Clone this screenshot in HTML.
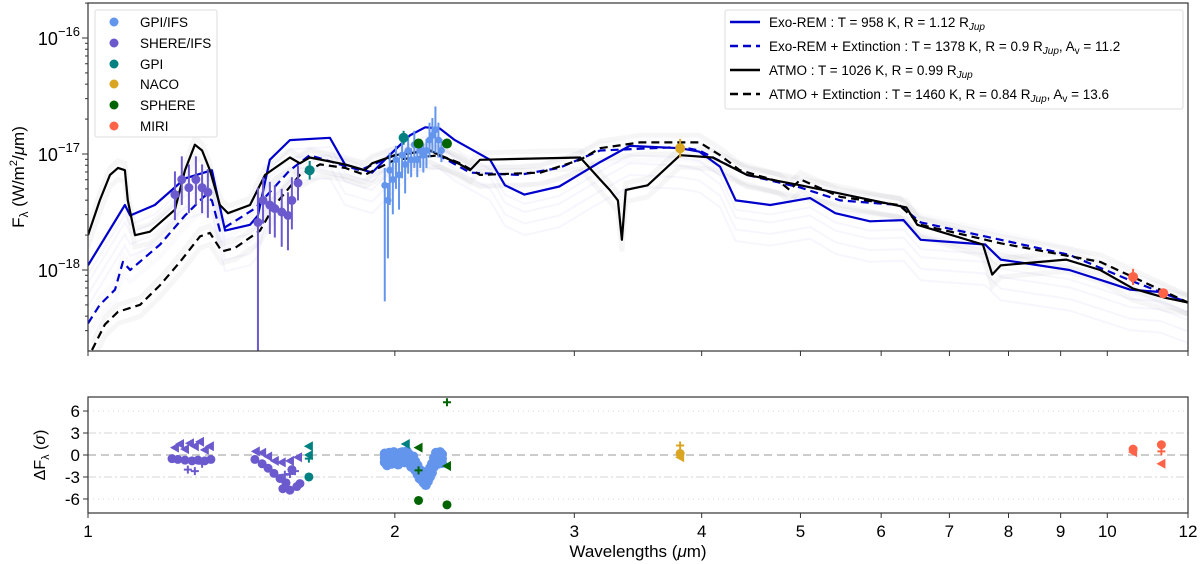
<!DOCTYPE html>
<html><head><meta charset="utf-8">
<style>
html,body{margin:0;padding:0;background:#fff;}
svg{display:block;font-family:"Liberation Sans","DejaVu Sans",sans-serif;}
</style></head>
<body>
<svg id="c" width="1200" height="564" viewBox="0 0 1200 564" xmlns="http://www.w3.org/2000/svg">
<defs>
<clipPath id="clipTop"><rect x="88" y="3" width="1100" height="348"/></clipPath>
<clipPath id="clipBot"><rect x="88" y="397" width="1100" height="116"/></clipPath>
</defs>
<g id="topPlot" clip-path="url(#clipTop)"></g>
<g id="botPlot" clip-path="url(#clipBot)"></g>
<g id="axes"></g>
</svg>
<script>
// ---- model data (wavelength µm, log10 flux W/m2/µm) ----
const exoW  = [1.00,1.087,1.10,1.163,1.245,1.323,1.339,1.363,1.442,1.468,1.508,1.578,1.727,1.787,1.90,1.955,2.069,2.142,2.214,2.29,2.48,2.565,2.68,2.90,3.18,3.40,3.81,3.98,4.17,4.32,4.67,5.11,5.41,5.85,6.31,6.56,7.59,7.86,9.18,10.05,10.53,11.27,12.0];
const exoL  = [-17.96,-17.44,-17.53,-17.44,-17.21,-17.14,-17.35,-17.66,-17.61,-17.53,-17.05,-16.88,-16.86,-17.09,-17.16,-17.05,-16.84,-16.77,-16.78,-16.88,-17.05,-17.27,-17.35,-17.28,-17.07,-16.93,-16.95,-16.98,-17.11,-17.40,-17.44,-17.38,-17.51,-17.58,-17.57,-17.74,-17.78,-17.91,-18.00,-18.11,-18.17,-18.19,-18.28];
const exoExtW = [1.00,1.027,1.063,1.082,1.10,1.177,1.245,1.302,1.323,1.347,1.458,1.578,1.65,1.767,1.849,2.0,2.166,2.37,2.65,2.90,3.18,3.81,3.98,4.43,5.0,5.47,6.25,6.56,7.86,9.18,10.53,12.0];
const exoExtL = [-18.46,-18.30,-18.17,-17.93,-18.00,-17.78,-17.53,-17.36,-17.40,-17.66,-17.47,-17.14,-17.01,-17.09,-17.14,-17.01,-16.97,-17.16,-17.18,-17.12,-16.97,-16.94,-16.97,-17.18,-17.29,-17.40,-17.44,-17.59,-17.74,-17.87,-18.09,-18.28];
const atmoW = [1.00,1.027,1.051,1.07,1.087,1.094,1.112,1.15,1.217,1.245,1.273,1.294,1.317,1.347,1.372,1.442,1.492,1.578,1.614,1.65,1.787,1.869,1.90,2.0,2.166,2.214,2.318,2.37,2.424,3.04,3.18,3.25,3.31,3.34,3.37,3.54,3.81,4.10,4.43,5.0,6.35,6.51,7.55,7.71,7.86,9.11,9.84,10.6,11.4,12.0];
const atmoL = [-17.70,-17.40,-17.18,-17.12,-17.14,-17.40,-17.70,-17.67,-17.48,-17.14,-16.92,-16.97,-17.14,-17.44,-17.51,-17.44,-17.18,-17.03,-17.08,-17.03,-17.09,-17.14,-17.08,-17.01,-16.97,-17.01,-17.09,-17.14,-17.05,-17.03,-17.22,-17.31,-17.40,-17.74,-17.31,-17.27,-17.01,-17.03,-17.18,-17.27,-17.46,-17.61,-17.78,-18.04,-17.96,-17.91,-18.00,-18.16,-18.24,-18.28];
const atmoExtW = [1.009,1.039,1.07,1.125,1.177,1.231,1.288,1.317,1.353,1.394,1.475,1.525,1.614,1.689,1.787,1.869,2.0,2.214,2.318,2.424,2.78,3.04,3.18,3.48,3.98,4.17,4.36,4.77,4.88,5.0,5.47,6.25,6.56,7.86,9.84,12.0];
const atmoExtL = [-18.69,-18.47,-18.36,-18.30,-18.13,-17.93,-17.71,-17.68,-17.84,-17.81,-17.66,-17.44,-17.18,-17.09,-17.12,-17.18,-17.05,-17.01,-17.08,-17.18,-17.16,-17.05,-16.95,-16.90,-16.90,-17.01,-17.14,-17.24,-17.31,-17.22,-17.37,-17.44,-17.61,-17.77,-17.93,-18.28];
// ---- observations ----
const gpiIfsW = [1.955,1.969,1.977,1.991,2.005,2.019,2.033,2.047,2.061,2.075,2.09,2.104,2.118,2.133,2.148,2.163,2.177,2.192,2.207,2.222];
const gpiIfsL = [-17.27,-17.40,-17.14,-17.22,-17.05,-17.18,-17.01,-17.09,-16.97,-17.05,-16.92,-17.05,-16.97,-17.01,-16.97,-16.88,-16.84,-16.79,-16.88,-16.97];
const gpiIfsE = [1.0,0.5,0.3,0.3,0.25,0.3,0.2,0.25,0.2,0.15,0.2,0.15,0.15,0.15,0.15,0.15,0.15,0.2,0.15,0.1];
const gpiIfsEup = [0.15,0.15,0.15,0.15,0.12,0.15,0.12,0.12,0.12,0.1,0.12,0.1,0.1,0.1,0.1,0.15,0.15,0.2,0.15,0.1];
const sphIfsW = [1.217,1.236,1.256,1.276,1.294,1.311,1.468,1.485,1.508,1.525,1.549,1.571,1.585,1.607];
const sphIfsL = [-17.35,-17.22,-17.29,-17.22,-17.29,-17.33,-17.59,-17.40,-17.44,-17.47,-17.50,-17.53,-17.40,-17.25];
const sphIfsE = [0.22,0.22,0.22,0.22,0.22,0.22,1.2,0.2,0.25,0.25,0.3,0.3,0.25,0.15];
const sphIfsEup = [0.2,0.2,0.2,0.2,0.2,0.2,0.3,0.2,0.2,0.2,0.2,0.2,0.2,0.15];
const gpiW = [1.65,2.04]; const gpiL = [-17.14,-16.86]; const gpiE = [0.08,0.06];
const sphereW = [2.11,2.25]; const sphereL = [-16.91,-16.91];
const nacoW = [3.81]; const nacoL = [-16.95]; const nacoE = [0.08];
const miriW = [10.6,11.35]; const miriL = [-18.06,-18.20]; const miriE = [0.07,0.02];
// ---- residuals (wavelength, sigma, marker) ----
const resW = [1.217,1.231,1.245,1.259,1.273,1.288,1.302,1.317,1.209,1.225,1.245,1.265,1.282,1.302,1.320,1.253,1.273,1.294,
 1.461,1.482,1.502,1.525,1.549,1.578,1.607,1.458,1.482,1.502,1.522,1.543,1.564,1.585,1.553,1.578,1.603,1.614,1.560,1.578,1.596,
 1.647,1.647,1.647,1.647,2.05,2.11,2.11,2.11,2.25,2.25,2.25,3.81,3.81,3.81,10.6,10.6,10.6,11.3,11.3,11.3];
const resV = [1.0,1.5,0.8,1.6,1.2,1.8,0.7,1.2,-0.5,-0.6,-0.7,-0.8,-0.7,-0.8,-0.6,-2.0,-2.2,-1.2,
 0.5,0.3,-0.2,-0.8,-1.0,-0.8,-0.3,-0.6,-1.2,-1.8,-2.5,-3.2,-3.8,-2.0,-4.6,-4.8,-4.3,-3.9,-2.7,-2.6,-2.2,
 1.2,0.0,-3.0,-0.5,1.5,1.0,-2.1,-6.2,7.2,-1.5,-6.8,1.3,0.2,-0.3,0.8,0.4,0.6,1.4,0.5,-1.2];
const resM = ['t','t','t','t','t','t','t','t','o','o','o','o','o','o','o','+','+','+',
 't','t','t','t','t','t','t','o','o','o','o','o','o','o','o','o','o','o','+','+','+',
 't','t','o','+','t','t','+','o','+','t','o','+','o','t','o','t','+','o','+','t'];
const resC = ['sphIfs','sphIfs','sphIfs','sphIfs','sphIfs','sphIfs','sphIfs','sphIfs','sphIfs','sphIfs','sphIfs','sphIfs','sphIfs','sphIfs','sphIfs','sphIfs','sphIfs','sphIfs',
 'sphIfs','sphIfs','sphIfs','sphIfs','sphIfs','sphIfs','sphIfs','sphIfs','sphIfs','sphIfs','sphIfs','sphIfs','sphIfs','sphIfs','sphIfs','sphIfs','sphIfs','sphIfs','sphIfs','sphIfs','sphIfs',
 'gpi','gpi','gpi','gpi','gpi','sphere','sphere','sphere','sphere','sphere','sphere','naco','naco','naco','miri','miri','miri','miri','miri','miri'];
const resBlueW = [1.955,1.965,1.975,1.985,1.995,2.005,2.015,2.025,2.035,2.045,2.055,2.065,2.075,2.085,2.095,2.105,2.115,2.125,2.135,2.145,2.155,2.165,2.175,2.185,2.195,2.205,2.215,2.225];
const resBlueV = [-0.4,-0.8,-0.3,-0.6,-0.2,-0.5,-0.7,-0.3,-0.2,-0.4,-0.1,-0.5,-1.0,-0.8,-1.5,-2.0,-2.6,-2.8,-3.2,-3.5,-3.0,-2.4,-1.8,-1.0,-0.3,-0.6,-0.2,-0.5];
const xTicks = [1,2,3,4,5,6,7,8,9,10,12];
const resTicks = [6,3,0,-3,-6];

const COL = {gpiIfs:'#6495ed', sphIfs:'#6a5acd', gpi:'#008080', naco:'#daa520', sphere:'#006400', miri:'#ff6347'};
const NS='http://www.w3.org/2000/svg';
const X0=88, X1=1188;
const xs = w => X0 + (X1-X0)*Math.log10(w)/Math.log10(12);
const ys = L => 154 - (L + 17)*116;
const yr = v => 455 - v*7.33;
function mk(tag, attrs, parent){const e=document.createElementNS(NS,tag);for(const k in attrs)e.setAttribute(k,attrs[k]);parent.appendChild(e);return e;}
const top_ = document.getElementById('topPlot');
const bot = document.getElementById('botPlot');
const ax = document.getElementById('axes');
function pathD(W,L,dy){return W.map((w,i)=>(i?'L':'M')+xs(w).toFixed(1)+','+ys(L[i]+(dy||0)).toFixed(1)).join('');}

// background model clouds
[-0.35,-0.25,-0.15,-0.08].forEach((d,i)=>{
  const p=mk('path',{d:pathD(exoW,exoL,d),fill:'none',stroke:'#8890e8','stroke-width':2,'stroke-opacity':0.08},top_);
  
  
});
[[exoExtW,exoExtL,'#8890e8'],[atmoW,atmoL,'#000'],[atmoExtW,atmoExtL,'#000']].forEach(a=>{
  [-0.1,0.06].forEach(d=>{
    const p=mk('path',{d:pathD(a[0],a[1],d),fill:'none',stroke:a[2],'stroke-width':5,'stroke-opacity':0.035},top_);
    
    
  });
});
// models
const models=[[exoW,exoL,'#0000cc','', 'exo-rem-line'],[exoExtW,exoExtL,'#0000cc','8 5','exo-rem-extinction-line'],[atmoW,atmoL,'#000','','atmo-line'],[atmoExtW,atmoExtL,'#000','8 5','atmo-extinction-line']];
models.forEach(m=>{
  const p=mk('path',{d:pathD(m[0],m[1]),fill:'none',stroke:m[2],'stroke-width':2.2,'stroke-dasharray':m[3],'stroke-linejoin':'round'},top_);
  
  
});
// observations
function obs(W,L,E,Eup,col,r,name){
  W.forEach((w,i)=>{
    if(E){const up=Eup?Eup[i]:E[i];
      const l=mk('line',{x1:xs(w),x2:xs(w),y1:ys(L[i]-E[i]),y2:ys(L[i]+up),stroke:col,'stroke-width':2},top_);
      
      }
    const c=mk('circle',{cx:xs(w),cy:ys(L[i]),r:r,fill:col},top_);
    
    
  });
}
obs(sphIfsW,sphIfsL,sphIfsE,sphIfsEup,COL.sphIfs,4.5,'sphere-ifs');
obs(gpiIfsW,gpiIfsL,gpiIfsE,gpiIfsEup,COL.gpiIfs,3.5,'gpi-ifs');
obs(gpiW,gpiL,gpiE,null,COL.gpi,5,'gpi');
obs(sphereW,sphereL,null,null,COL.sphere,5,'sphere');
obs(nacoW,nacoL,nacoE,null,COL.naco,5,'naco');
obs(miriW,miriL,miriE,null,COL.miri,5,'miri');

// residual panel gridlines
[[6,'1 4'],[3,'8 3 2 3'],[0,'8 5'],[-3,'8 3 2 3'],[-6,'1 4']].forEach(g=>{
  const l=mk('line',{x1:X0,x2:X1,y1:yr(g[0]),y2:yr(g[0]),stroke:g[0]===0?'#bbb':'#ddd','stroke-width':g[0]===0?1.6:1.3,'stroke-dasharray':g[1]},bot);
  
  
});
function marker(x,y,m,col){
  let e;
  if(m==='o') e=mk('circle',{cx:x,cy:y,r:4.5,fill:col},bot);
  else if(m==='t') e=mk('polygon',{points:`${x-5},${y} ${x+4},${y-5} ${x+4},${y+5}`,fill:col},bot);
  else e=mk('path',{d:`M${x-4},${y}H${x+4}M${x},${y-4}V${y+4}`,stroke:col,'stroke-width':2},bot);
  return e;
}
resBlueW.forEach((w,i)=>{
  [0,0.6,-0.6].forEach(d=>{
    const e=mk('circle',{cx:xs(w),cy:yr(resBlueV[i]+d),r:5,fill:COL.gpiIfs},bot);
    
    
  });
});
resW.forEach((w,i)=>{
  const e=marker(xs(w),yr(resV[i]),resM[i],COL[resC[i]]);
  
  
});

// frames
[[3,351],[397,513]].forEach(f=>{
  const r=mk('rect',{x:X0,y:f[0],width:X1-X0,height:f[1]-f[0],fill:'none',stroke:'#333','stroke-width':1.2},ax);
  
  
});
// x ticks
xTicks.forEach(t=>{
  const x=xs(t);
  [[351,356],[513,518]].forEach(s=>{const l=mk('line',{x1:x,x2:x,y1:s[0],y2:s[1],stroke:'#333','stroke-width':1},ax);
    
    });
  const tx=mk('text',{x:x,y:537,'text-anchor':'middle','font-size':17,fill:'#000'},ax);
  tx.textContent=t;
  
  
});
// y minor/major ticks (log)
for(let d=-19;d<=-16;d++){for(let k=1;k<10;k++){const L=d+Math.log10(k);const y=ys(L);if(y<3||y>351)continue;
  const l=mk('line',{x1:X0-(k===1?6:3),x2:X0,y1:y,y2:y,stroke:'#333','stroke-width':1},ax);
  
  
  if(k===1){const t=mk('text',{x:X0-8,y:y+7,'text-anchor':'end','font-size':18},ax);
    t.innerHTML='10<tspan dy="-9" font-size="13">−'+(-d)+'</tspan>';
    
    }
}}
resTicks.forEach(v=>{
  const l=mk('line',{x1:X0-5,x2:X0,y1:yr(v),y2:yr(v),stroke:'#333'},ax);
  
  
  const t=mk('text',{x:X0-8,y:yr(v)+6,'text-anchor':'end','font-size':17},ax);
  t.textContent=v<0?'-'+(-v):v;
  
  
});
</script>
<script>
const svg=document.getElementById('c');
svg.insertAdjacentHTML('beforeend',`
<text x="638" y="557" text-anchor="middle" font-size="17">Wavelengths (<tspan font-style="italic">μ</tspan>m)</text>
<text transform="translate(24,177) rotate(-90)" text-anchor="middle" font-size="17">F<tspan font-size="12" dy="4">λ</tspan><tspan dy="-4"> (W/m</tspan><tspan font-size="11" dy="-7">2</tspan><tspan dy="7">/</tspan><tspan font-style="italic">μ</tspan>m)</text>
<text transform="translate(45,455) rotate(-90)" text-anchor="middle" font-size="16">ΔF<tspan font-size="11" dy="4">λ</tspan><tspan dy="-4"> (</tspan><tspan font-style="italic">σ</tspan>)</text>
<g>
<rect x="95" y="10" width="122" height="127" fill="#fff" fill-opacity="0.85" stroke="#ddd" rx="2"/>
<circle cx="114" cy="22" r="4.5" fill="#6495ed"/><text x="140" y="27" font-size="13.5">GPI/IFS</text>
<circle cx="114" cy="43" r="4.5" fill="#6a5acd"/><text x="140" y="48" font-size="13.5">SHERE/IFS</text>
<circle cx="114" cy="64" r="4.5" fill="#008080"/><text x="140" y="69" font-size="13.5">GPI</text>
<circle cx="114" cy="84" r="4.5" fill="#daa520"/><text x="140" y="89" font-size="13.5">NACO</text>
<circle cx="114" cy="105" r="4.5" fill="#006400"/><text x="140" y="110" font-size="13.5">SPHERE</text>
<circle cx="114" cy="126" r="4.5" fill="#ff6347"/><text x="140" y="131" font-size="13.5">MIRI</text>
</g>
<g font-size="13.5">
<rect x="725" y="10" width="458" height="99" fill="#fff" fill-opacity="0.9" stroke="#ddd" rx="2"/>
<line x1="730" x2="760" y1="22" y2="22" stroke="#0000cc" stroke-width="2.5"/><text x="769" y="27">Exo-REM : T = 958 K, R = 1.12 R<tspan font-size="10" dy="3" font-style="italic">Jup</tspan></text>
<line x1="730" x2="760" y1="46" y2="46" stroke="#0000cc" stroke-width="2.5" stroke-dasharray="8 5"/><text x="769" y="51">Exo-REM + Extinction : T = 1378 K, R = 0.9 R<tspan font-size="10" dy="3" font-style="italic">Jup</tspan><tspan dy="-3">, A</tspan><tspan font-size="10" dy="3">v</tspan><tspan dy="-3"> = 11.2</tspan></text>
<line x1="730" x2="760" y1="70" y2="70" stroke="#000" stroke-width="2.5"/><text x="769" y="75">ATMO : T = 1026 K, R = 0.99 R<tspan font-size="10" dy="3" font-style="italic">Jup</tspan></text>
<line x1="730" x2="760" y1="94" y2="94" stroke="#000" stroke-width="2.5" stroke-dasharray="8 5"/><text x="769" y="99">ATMO + Extinction : T = 1460 K, R = 0.84 R<tspan font-size="10" dy="3" font-style="italic">Jup</tspan><tspan dy="-3">, A</tspan><tspan font-size="10" dy="3">v</tspan><tspan dy="-3"> = 13.6</tspan></text>
</g>`);
</script>
</body></html>
